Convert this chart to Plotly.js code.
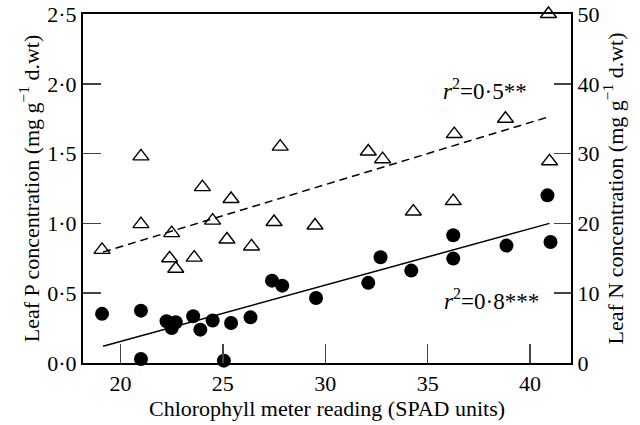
<!DOCTYPE html>
<html>
<head>
<meta charset="utf-8">
<script src="https://cdn.plot.ly/plotly-3.0.1.min.js"></script>
<style>html,body{margin:0;padding:0;background:#fff}#chart{width:640px;height:425px}</style>
</head>
<body>
<div id="chart"></div>
<script>
// Leaf N (right axis) vs SPAD
const spadN = [19.1, 21.0, 21.0, 22.5, 22.4, 22.7, 23.6, 24.0, 24.5, 25.4, 25.2, 26.4, 27.5, 27.8, 29.5, 32.1, 32.8, 34.3, 36.25, 36.3, 38.8, 40.9, 40.95];
const leafN = [16.2, 29.6, 19.9, 18.6, 15.0, 13.5, 15.1, 25.2, 20.4, 23.5, 17.7, 16.7, 20.2, 31.0, 19.7, 30.3, 29.2, 21.7, 23.2, 32.8, 35.0, 50.0, 28.9];
// Leaf P (left axis) vs SPAD
const spadP = [19.1, 21.0, 21.0, 22.25, 22.5, 22.7, 23.55, 23.9, 24.5, 25.05, 25.4, 26.35, 27.4, 27.9, 29.55, 32.1, 32.7, 34.2, 36.25, 36.25, 38.85, 40.85, 41.0];
const leafP = [0.352, 0.375, 0.029, 0.299, 0.251, 0.292, 0.335, 0.239, 0.304, 0.017, 0.287, 0.327, 0.590, 0.554, 0.466, 0.574, 0.757, 0.662, 0.915, 0.748, 0.841, 1.201, 0.867];
// Regression lines (endpoints)
const fitX = [19.15, 40.95];
const fitN = [15.9, 35.3];
const fitP = [0.12, 1.0];
const leftTicks = [0, 0.5, 1.0, 1.5, 2.0, 2.5];
const leftTickText = ['0·0', '0·5', '1·0', '1·5', '2·0', '2·5'];
const rightTicks = [0, 10, 20, 30, 40, 50];
const xTicks = [20, 25, 30, 35, 40];

const font = {family: 'Liberation Serif, Times New Roman, serif', size: 22, color: '#000'};

const traces = [
  {x: fitX, y: fitN, yaxis: 'y2', mode: 'lines', line: {color: '#000', width: 1.5, dash: '8px,5px'}, hoverinfo: 'skip'},
  {x: fitX, y: fitP, mode: 'lines', line: {color: '#000', width: 1.5}, hoverinfo: 'skip'},
  {x: spadN, y: leafN, yaxis: 'y2', mode: 'markers', cliponaxis: false,
   marker: {symbol: 'triangle-up-open', size: 14, color: '#000', line: {width: 1.4, color: '#000'}}},
  {x: spadP, y: leafP, mode: 'markers', cliponaxis: false,
   marker: {symbol: 'circle', size: 14, color: '#000'}}
];

const layout = {
  width: 640, height: 425,
  margin: {l: 83, r: 69, t: 14, b: 62},
  showlegend: false,
  paper_bgcolor: '#fff', plot_bgcolor: '#fff',
  font: font,
  xaxis: {
    range: [18.17, 42.0], tickvals: xTicks, ticks: 'inside', ticklen: 19, tickwidth: 1.5,
    showline: true, mirror: true, linecolor: '#000', linewidth: 2, showgrid: false, zeroline: false,
    tickfont: font,
    title: {text: 'Chlorophyll meter reading (SPAD units)', font: font, standoff: 3}
  },
  yaxis: {
    range: [0, 2.5], tickvals: leftTicks, ticktext: leftTickText, ticks: 'inside', ticklen: 18, tickwidth: 1.5,
    showline: true, linecolor: '#000', linewidth: 2, showgrid: false, zeroline: false,
    tickfont: font,
    title: {text: 'Leaf P concentration (mg g<sup>−1</sup> d.wt)', font: font, standoff: 2}
  },
  yaxis2: {
    range: [0, 50], tickvals: rightTicks, overlaying: 'y', side: 'right', ticks: 'inside', ticklen: 17, tickwidth: 1.5,
    showline: true, linecolor: '#000', linewidth: 2, showgrid: false, zeroline: false,
    tickfont: font,
    title: {text: 'Leaf N concentration (mg g<sup>−1</sup> d.wt)', font: font, standoff: 3}
  },
  annotations: [
    {x: 37.8, y: 1.958, xref: 'x', yref: 'y', text: '<i>r</i><sup>2</sup>=0·5**', showarrow: false, font: {family: font.family, size: 23, color: '#000'}},
    {x: 38.1, y: 0.454, xref: 'x', yref: 'y', text: '<i>r</i><sup>2</sup>=0·8***', showarrow: false, font: {family: font.family, size: 23, color: '#000'}}
  ]
};

Plotly.newPlot('chart', traces, layout, {displayModeBar: false, staticPlot: true});
</script>
</body>
</html>
